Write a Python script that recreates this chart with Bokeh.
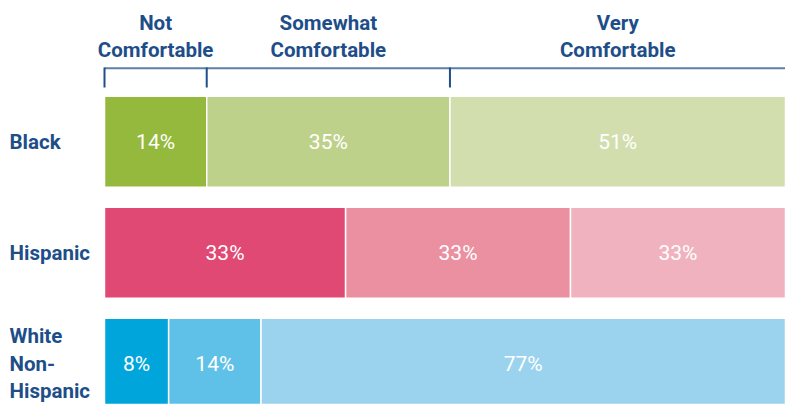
from bokeh.plotting import figure
from bokeh.models import Range1d, ColumnDataSource
from bokeh.embed import file_html
from bokeh.resources import INLINE
from bokeh.core.properties import value

# ---- data -------------------------------------------------------------
groups = ["Black", "Hispanic", "White\nNon-\nHispanic"]
levels = ["Not\nComfortable", "Somewhat\nComfortable", "Very\nComfortable"]

# percentages printed on the bars
not_comf = [14, 33, 8]
somewhat = [35, 33, 14]
very = [51, 33, 77]

# bar lengths as drawn in the reference (percent units)
not_len = [14.5, 34.2, 9.1]
some_len = [34.5, 31.9, 13.1]
very_len = [51, 33, 77]

# ---- styles -----------------------------------------------------------
colors = [
    ["#95b93c", "#bed18b", "#d2deae"],
    ["#e04974", "#ea90a0", "#f0b2be"],
    ["#00a6db", "#5fc1e7", "#9bd3ee"],
]
NAVY = "#1d4e89"
FONT = value("Roboto")

W, H = 785, 404
PX = 7.05            # pixels per percent
X0 = 104             # pixel where 0 % sits
x_start = -X0 / PX
x_end = (W - X0) / PX

ROW0 = 141.3         # centre of first row (px from top)
PITCH = 111
BAR_H = 91

p = figure(width=W, height=H, output_backend="svg", toolbar_location=None,
           x_range=Range1d(x_start, x_end), y_range=Range1d(H, 0),
           x_axis_type=None, y_axis_type=None, min_border=0,
           outline_line_color=None, background_fill_color="white",
           border_fill_color="white")
p.grid.visible = False

# ---- bars -------------------------------------------------------------
lefts, rights, ys, fills, lab_x, lab_y, labs = [], [], [], [], [], [], []
for i in range(len(groups)):
    lens = [not_len[i], some_len[i], very_len[i]]
    vals = [not_comf[i], somewhat[i], very[i]]
    acc = 0
    yc = ROW0 + i * PITCH
    for j in range(3):
        l, r = acc, acc + lens[j]
        lefts.append(l); rights.append(r); ys.append(yc)
        fills.append(colors[i][j])
        lab_x.append((l + min(r, x_end)) / 2)
        lab_y.append(yc)
        labs.append(f"{vals[j]}%")
        acc = r

src = ColumnDataSource(dict(left=lefts, right=rights, y=ys, color=fills))
p.hbar(y="y", left="left", right="right", height=BAR_H, fill_color="color",
       line_color="white", line_width=1.5, source=src)

p.text(x=lab_x, y=lab_y, text=labs, text_color="white", text_font=FONT,
       text_font_size="21px", text_align="center", text_baseline="middle")

# ---- row labels -------------------------------------------------------
rx, ry, rt = [], [], []
LINE = 27.5
for i, g in enumerate(groups):
    lines = g.split("\n")
    yc = ROW0 + i * PITCH
    for k, t in enumerate(lines):
        rx.append(x_start + 9 / PX)
        ry.append(yc + (k - (len(lines) - 1) / 2) * LINE)
        rt.append(t)
p.text(x=rx, y=ry, text=rt, text_color=NAVY, text_font=FONT,
       text_font_style="bold", text_font_size="20.5px", text_align="left",
       text_baseline="middle")

# ---- header with bracket ----------------------------------------------
bounds = [0, not_len[0], not_len[0] + some_len[0], not_len[0] + some_len[0] + very_len[0]]
hx, hy, ht = [], [], []
for j, lv in enumerate(levels):
    cx = (bounds[j] + min(bounds[j + 1], x_end)) / 2
    for k, t in enumerate(lv.split("\n")):
        hx.append(cx)
        hy.append(22 + k * 27)
        ht.append(t)
p.text(x=hx, y=hy, text=ht, text_color=NAVY, text_font=FONT,
       text_font_style="bold", text_font_size="20.5px", text_align="center",
       text_baseline="middle")

p.segment(x0=[0], y0=[67.7], x1=[x_end], y1=[67.7], line_color="#5b80ab",
          line_width=2)
p.segment(x0=bounds[:3], y0=[67] * 3, x1=bounds[:3], y1=[87] * 3,
          line_color="#1f4f88", line_width=2)

open("out.html", "w").write(file_html(p, INLINE))
